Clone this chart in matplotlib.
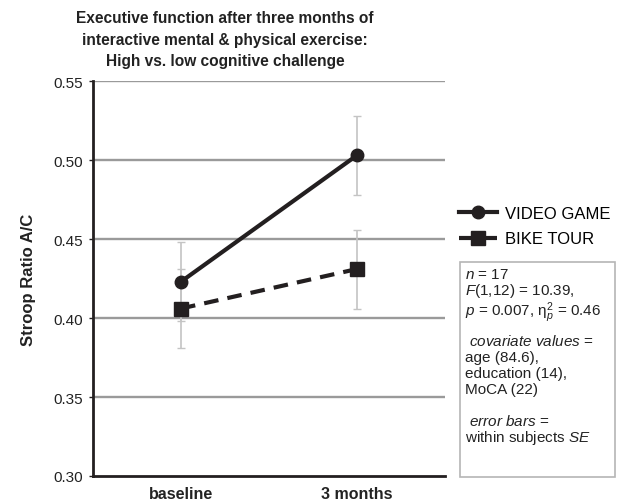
import matplotlib
matplotlib.use('Agg')
import matplotlib.pyplot as plt
from matplotlib.patches import Rectangle

plt.rcParams['font.family'] = ['Liberation Sans', 'DejaVu Sans']
plt.rcParams['mathtext.fontset'] = 'custom'
plt.rcParams['mathtext.rm'] = 'Liberation Sans'
plt.rcParams['mathtext.it'] = 'Liberation Sans:italic'

# data
timepoints = ['baseline', '3 months']
video_game = [0.423, 0.503]
video_game_se = [0.025, 0.025]
bike_tour = [0.406, 0.431]
bike_tour_se = [0.025, 0.025]
y_ticks = [0.30, 0.35, 0.40, 0.45, 0.50, 0.55]

dark = '#231f20'

fig = plt.figure(figsize=(6.25, 5.02), dpi=100)
ax = fig.add_axes([93/625, 25/502, 352/625, 395/502])

x = list(range(len(timepoints)))

for y in y_ticks[1:]:
    ax.axhline(y, color='#9a9a9a', lw=1.7, zorder=1)

ax.errorbar(x, video_game, yerr=video_game_se, fmt='none', ecolor='#c4c4c4',
            elinewidth=1.2, capsize=3, capthick=1, zorder=2)
ax.errorbar(x, bike_tour, yerr=bike_tour_se, fmt='none', ecolor='#c4c4c4',
            elinewidth=1.2, capsize=3, capthick=1, zorder=2)

l1, = ax.plot(x, video_game, '-o', color=dark, lw=3, ms=9, zorder=3,
              label='VIDEO GAME')
l2, = ax.plot(x, bike_tour, '--s', color=dark, lw=3, ms=9.5, zorder=3,
              dashes=(3.5, 2.2), label='BIKE TOUR')

ax.set_xlim(-0.5, 1.5)
ax.set_ylim(0.30, 0.55)
ax.set_yticks(y_ticks)
ax.set_yticklabels(['%.2f' % v for v in y_ticks], fontsize=11, color='#222222')
ax.set_xticks(x)
ax.set_xticklabels(timepoints, fontsize=11.5, fontweight='bold', color='#222222')
ax.tick_params(axis='x', length=0, pad=7)
ax.tick_params(axis='y', length=3, width=1, color=dark, pad=4)
ax.spines['top'].set_visible(False)
ax.spines['right'].set_visible(False)
ax.spines['left'].set_color(dark)
ax.spines['left'].set_linewidth(2)
ax.spines['bottom'].set_color(dark)
ax.spines['bottom'].set_linewidth(2)
ax.set_ylabel('Stroop Ratio A/C', fontsize=12, fontweight='bold', color='#222222',
              labelpad=13)

fig.text(225/625, 1 - 40/502,
         'Executive function after three months of\n'
         'interactive mental & physical exercise:\n'
         'High vs. low cognitive challenge',
         ha='center', va='center', fontsize=11.2, fontweight='bold',
         color='#222222', linespacing=1.52)

fig.legend(handles=[l1, l2], loc='upper left',
           bbox_to_anchor=(452/625, 1 - 200/502), frameon=False,
           fontsize=12, handlelength=2.3, handletextpad=0.5,
           labelspacing=0.65, borderaxespad=0)

# stats box
fig.patches.append(Rectangle((460/625, 1 - 478/502), 155/625, 215/502,
                             transform=fig.transFigure, fill=False,
                             edgecolor='#b5b5b5', lw=1.2))

box_lines = [
    (465, 275, '$n$ = 17'),
    (465, 291, '$F$(1,12) = 10.39,'),
    (465, 313, r'$p$ = 0.007, $\mathregular{\eta}_p^2$ = 0.46'),
    (469, 342, '$covariate\ values$ ='),
    (465, 358, 'age (84.6),'),
    (465, 374, 'education (14),'),
    (465, 390, 'MoCA (22)'),
    (469, 422, '$error\ bars$ ='),
    (465, 438, 'within subjects $SE$'),
]
for bx, by, txt in box_lines:
    fig.text(bx/625, 1 - by/502, txt, ha='left', va='center', fontsize=11,
             color='#222222')

fig.savefig('out.png', dpi=100)
